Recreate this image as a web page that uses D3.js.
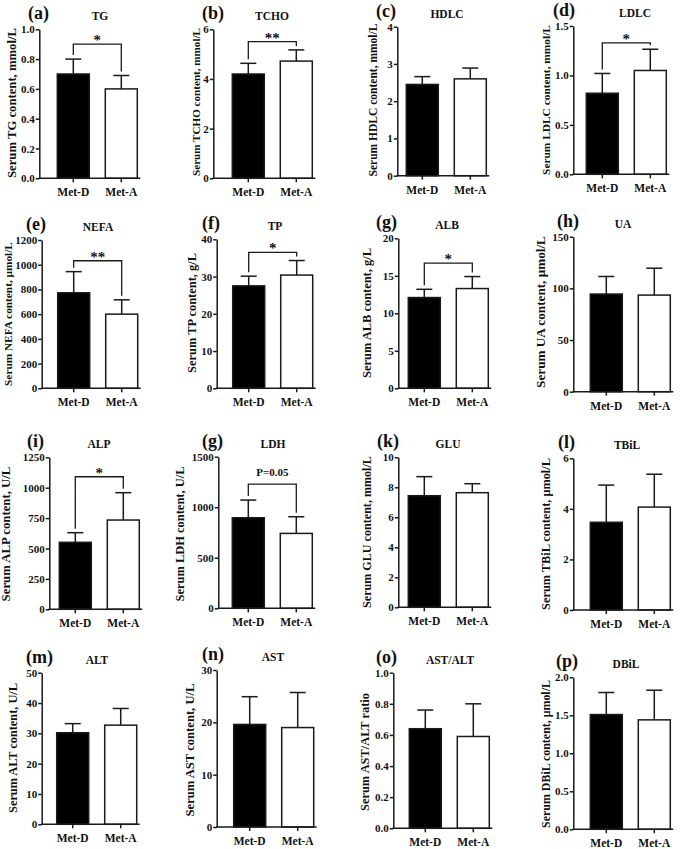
<!DOCTYPE html>
<html><head><meta charset="utf-8">
<script src="https://cdn.jsdelivr.net/npm/d3@7"></script>
<style>
body{margin:0;background:#fff}
text{font-family:"Liberation Serif","Times New Roman",serif;font-weight:bold;fill:#111}
</style>
</head><body>
<svg id="c" width="685" height="849"></svg>
<script>
// ---------------- data ----------------
const groups = ["Met-D", "Met-A"];
const panelLetters = ["(a)","(b)","(c)","(d)","(e)","(f)","(g)","(h)","(i)","(g)","(k)","(l)","(m)","(n)","(o)","(p)"];
const analytes = ["TG","TCHO","HDLC","LDLC","NEFA","TP","ALB","UA","ALP","LDH","GLU","TBiL","ALT","AST","AST/ALT","DBiL"];
const yLabels = [
  "Serum TG content, mmol/L","Serum TCHO content, mmol/L","Serum HDLC content, mmol/L","Serum LDLC content, mmol/L",
  "Serum NEFA content, μmol/L","Serum TP content, g/L","Serum ALB content, g/L","Serum UA content, μmol/L",
  "Serum ALP content, U/L","Serum LDH content, U/L","Serum GLU content, mmol/L","Serum TBiL content, μmol/L",
  "Serum ALT content, U/L","Serum AST content, U/L","Serum AST/ALT ratio","Serum DBiL content, μmol/L"];
const metD    = [0.70, 4.20, 2.45, 0.82, 773, 27.5, 12.1, 94.5, 551, 896, 7.44, 3.47, 30.2, 19.6, 0.64, 1.51];
const metDerr = [0.10, 0.43, 0.21, 0.20, 171, 2.6, 1.1, 17, 79, 175, 1.27, 1.47, 3.0, 5.3, 0.12, 0.29];
const metA    = [0.60, 4.72, 2.60, 1.05, 600, 30.4, 13.3, 93.5, 734, 741, 7.64, 4.07, 32.7, 19.0, 0.59, 1.44];
const metAerr = [0.09, 0.45, 0.29, 0.215, 116, 3.9, 1.6, 26, 225, 165, 0.60, 1.30, 5.5, 6.7, 0.21, 0.39];
const yMax    = [1.0, 6, 4, 1.5, 1200, 40, 20, 150, 1250, 1500, 10, 6, 50, 30, 1.0, 2.0];
const tickLabels = [
  ["0.0","0.2","0.4","0.6","0.8","1.0"], ["0","2","4","6"], ["0","1","2","3","4"], ["0.0","0.5","1.0","1.5"],
  ["0","200","400","600","800","1000","1200"], ["0","10","20","30","40"], ["0","5","10","15","20"], ["0","50","100","150"],
  ["0","250","500","750","1000","1250"], ["0","500","1000","1500"], ["0","2","4","6","8","10"], ["0","2","4","6"],
  ["0","10","20","30","40","50"], ["0","10","20","30"], ["0.0","0.2","0.4","0.6","0.8","1.0"], ["0.0","0.5","1.0","1.5","2.0"]];
const sigText  = ["*","**","","*","**","*","*","","*","P=0.05","","","","","",""];
const sigLevel = [0.90, 5.5, null, 1.33, 1032, 36.5, 16.7, null, 1090, 1229, null, null, null, null, null, null];

// ---------------- layout ----------------
const layout = [
  {ax:39.3, top:29.3, bot:178.3, bar:18, lab:28, tit:100, ylx:12, ylc:103, yls:150},
  {ax:213.3, top:29.3, bot:178.3, bar:19, lab:202, tit:272, ylx:195.5, ylc:102, yls:148},
  {ax:397.3, top:26.7, bot:175.7, bar:9, lab:376, tit:447, ylx:373, ylc:100, yls:153},
  {ax:573.3, top:26, bot:174.3, bar:13, lab:553, tit:635, ylx:545.5, ylc:100, yls:150},
  {ax:41.7, top:240, bot:388.3, bar:16, lab:26, tit:98, ylx:8, ylc:314, yls:144},
  {ax:216.7, top:239.3, bot:388.3, bar:16, lab:202, tit:275, ylx:192, ylc:313, yls:120},
  {ax:398.3, top:238.3, bot:388.3, bar:10, lab:376, tit:447, ylx:367, ylc:313, yls:130},
  {ax:573.3, top:236.7, bot:391.7, bar:17, lab:557, tit:623, ylx:540, ylc:312, yls:152},
  {ax:49.3, top:457.3, bot:609.3, bar:10, lab:27, tit:99, ylx:6, ylc:534, yls:135},
  {ax:218.3, top:456.7, bot:608.3, bar:14, lab:202, tit:273, ylx:180, ylc:534, yls:135},
  {ax:398.3, top:457.3, bot:607.3, bar:10, lab:377, tit:448, ylx:367, ylc:532, yls:152},
  {ax:573.3, top:458.3, bot:610, bar:17, lab:558, tit:627, ylx:545.5, ylc:534, yls:152},
  {ax:41.7, top:672.7, bot:824.3, bar:15, lab:26, tit:97, ylx:13, ylc:748, yls:130},
  {ax:216.7, top:670, bot:827, bar:17, lab:202, tit:273, ylx:190, ylc:750, yls:133},
  {ax:393.3, top:672.7, bot:828.3, bar:16, lab:376, tit:450, ylx:365, ylc:752, yls:118},
  {ax:573.3, top:677.3, bot:829.3, bar:17, lab:556, tit:626, ylx:545.5, ylc:754, yls:148}
];

const svg = d3.select("#c");
const ink = "#1a1a1a";

analytes.forEach((name, i) => {
  const L = layout[i];
  const g = svg.append("g");
  const y = d3.scaleLinear().domain([0, yMax[i]]).range([L.bot, L.top]);
  const x = d3.scaleBand().domain(groups).range([L.ax + L.bar, L.ax + L.bar + 80]).paddingInner(1/3);
  const vals = [metD[i], metA[i]];
  const errs = [metDerr[i], metAerr[i]];
  const bw = x.bandwidth();

  // error bars (upper only)
  groups.forEach((grp, j) => {
    const cx = x(grp) + bw / 2;
    g.append("line").attr("x1", cx).attr("x2", cx)
      .attr("y1", y(vals[j])).attr("y2", y(vals[j] + errs[j]))
      .attr("stroke", ink).attr("stroke-width", 1.5);
    g.append("line").attr("x1", cx - bw / 4).attr("x2", cx + bw / 4)
      .attr("y1", y(vals[j] + errs[j])).attr("y2", y(vals[j] + errs[j]))
      .attr("stroke", ink).attr("stroke-width", 1.5);
  });

  // bars
  g.selectAll("rect.bar").data(groups).join("rect").attr("class", "bar")
    .attr("x", d => x(d)).attr("width", bw)
    .attr("y", (d, j) => y(vals[j]))
    .attr("height", (d, j) => L.bot - y(vals[j]))
    .attr("fill", (d, j) => j === 0 ? "#000" : "#fff")
    .attr("stroke", ink).attr("stroke-width", 1.5);

  // y axis
  const ticks = tickLabels[i].map(Number);
  const ya = g.append("g").attr("transform", `translate(${L.ax},0)`)
    .call(d3.axisLeft(y).tickValues(ticks).tickFormat((d, k) => tickLabels[i][k]).tickSize(3.5).tickSizeOuter(0).tickPadding(1));
  ya.select(".domain").attr("stroke", ink).attr("stroke-width", 1.5);
  ya.selectAll(".tick line").attr("stroke", ink).attr("stroke-width", 1.5);
  ya.selectAll(".tick text").attr("font-size", 11).style("fill", "#111");
  ya.attr("font-family", null).attr("font-size", null);

  // x axis
  const xa = g.append("g").attr("transform", `translate(0,${L.bot})`)
    .call(d3.axisBottom(x).tickSize(4).tickSizeOuter(0).tickPadding(6));
  xa.select(".domain").remove();
  xa.attr("font-family", null).attr("font-size", null);
  xa.selectAll(".tick line").attr("stroke", ink).attr("stroke-width", 1.5);
  xa.selectAll(".tick text").attr("font-size", 11.5).style("fill", "#111");
  g.append("line").attr("x1", L.ax - 0.75).attr("x2", L.ax + L.bar + 80 + 3)
    .attr("y1", L.bot).attr("y2", L.bot).attr("stroke", ink).attr("stroke-width", 1.5);

  // y label
  const yl = g.append("text").attr("transform", `translate(${L.ylx},${L.ylc}) rotate(-90)`)
    .attr("text-anchor", "middle").attr("dominant-baseline", "central")
    .attr("font-size", 12).text(yLabels[i]);
  const len = yl.node().getComputedTextLength();
  yl.attr("font-size", 12 * L.yls / len);

  // panel letter & title
  g.append("text").attr("x", L.lab).attr("y", L.top - 10).attr("font-size", 18).text(panelLetters[i]);
  g.append("text").attr("x", L.tit).attr("y", L.top - 9).attr("text-anchor", "middle").attr("font-size", 11.5).text(name);

  // significance bracket
  if (sigText[i]) {
    const by = y(sigLevel[i]);
    const x1 = x(groups[0]) + bw / 2, x2 = x(groups[1]) + bw / 2;
    const e1 = y(vals[0] + errs[0]) - 4, e2 = y(vals[1] + errs[1]) - 4;
    g.append("path").attr("d", `M${x1},${e1}V${by}H${x2}V${e2}`)
      .attr("fill", "none").attr("stroke", ink).attr("stroke-width", 1.3);
    const isStar = sigText[i].indexOf("*") >= 0;
    g.append("text").attr("x", (x1 + x2) / 2).attr("y", isStar ? by + 1 : by - 8)
      .attr("text-anchor", "middle").attr("font-size", isStar ? 15 : 11).text(sigText[i]);
  }
});
</script>
</body></html>
